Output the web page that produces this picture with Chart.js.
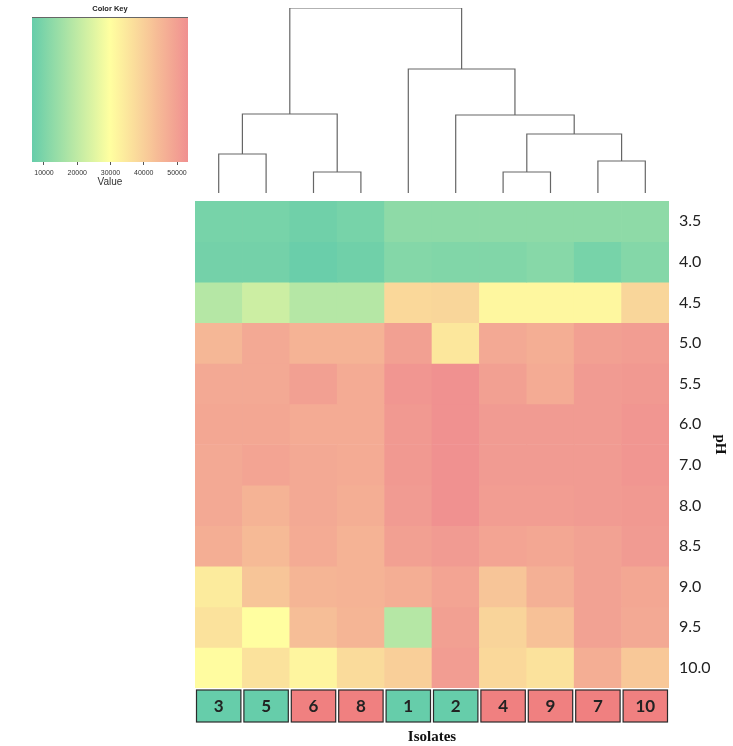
<!DOCTYPE html>
<html>
<head>
<meta charset="utf-8">
<script src="https://cdn.jsdelivr.net/npm/chart.js@4/dist/chart.umd.min.js"></script>
<style>
  body { margin: 0; background: #fff; }
  #wrap { position: relative; width: 733px; height: 746px; }
  canvas { position: absolute; }
</style>
</head>
<body>
<div id="wrap">
  <canvas id="heat" width="733" height="746" style="left:0;top:0"></canvas>
  <canvas id="dendro" width="474" height="200" style="left:195px;top:0"></canvas>
  <canvas id="key" width="200" height="190" style="left:0;top:0"></canvas>
</div>
<script>
// Isolados na ordem do dendrograma
const isolates = ['3', '5', '6', '8', '1', '2', '4', '9', '7', '10'];
const isolateGroup = ['g', 'g', 'r', 'r', 'g', 'g', 'r', 'r', 'r', 'r'];
const phLevels = ['3.5', '4.0', '4.5', '5.0', '5.5', '6.0', '7.0', '8.0', '8.5', '9.0', '9.5', '10.0'];

// Valores por linha de pH (uma posição por isolado)
const ph3_5  = [9000, 9000, 8000, 9000, 12500, 12500, 12500, 12500, 12500, 12500];
const ph4_0  = [8500, 8500, 7000, 8000, 11000, 10500, 10500, 11500, 9000, 11000];
const ph4_5  = [18500, 22000, 18500, 18500, 38000, 38500, 31500, 31500, 31500, 38500];
const ph5_0  = [45000, 48000, 46000, 46000, 50000, 35000, 48000, 47000, 50000, 50500];
const ph5_5  = [48000, 48000, 50000, 47500, 52000, 53000, 50000, 47500, 51000, 51500];
const ph6_0  = [48500, 48500, 47500, 47500, 51500, 53000, 51000, 51000, 51000, 52000];
const ph7_0  = [48000, 49000, 48000, 47500, 51500, 53000, 51000, 51000, 51000, 52000];
const ph8_0  = [48000, 46000, 48000, 47000, 51000, 53000, 50500, 50500, 51000, 51500];
const ph8_5  = [47000, 44500, 47500, 46000, 50000, 51000, 49000, 48500, 49500, 51000];
const ph9_0  = [34000, 42000, 45500, 46000, 47000, 49000, 42000, 46500, 49500, 48500];
const ph9_5  = [36000, 30000, 43500, 45500, 18500, 50000, 39000, 43000, 49500, 48000];
const ph10_0 = [30500, 36000, 32000, 37500, 40000, 50500, 38000, 36000, 47000, 41500];
const heatValues = [ph3_5, ph4_0, ph4_5, ph5_0, ph5_5, ph6_0, ph7_0, ph8_0, ph8_5, ph9_0, ph9_5, ph10_0];

// Escala de cores (Color Key)
const keyMin = 6400;
const keyMax = 53300;
const keyTicks = [10000, 20000, 30000, 40000, 50000];

// Dendrograma: [esquerda, direita, altura]; texto = isolado, número = fusão anterior
const dendroMerges = [
  ['3', '5', 3.9],
  ['6', '8', 2.1],
  ['4', '9', 2.1],
  ['7', '10', 3.2],
  [0, 1, 7.9],
  [2, 3, 5.9],
  ['2', 5, 7.8],
  ['1', 6, 12.4],
  [4, 7, 18.5]
];

const cGreen = [102, 205, 170];
const cYellow = [255, 255, 160];
const cRed = [240, 144, 144];

function mix(a, b, t) {
  return a.map((v, i) => Math.round(v + (b[i] - v) * t));
}

// Converte valor em cor (verde -> amarelo -> vermelho)
function corValor(v) {
  let t = (v - keyMin) / (keyMax - keyMin);
  t = Math.max(0, Math.min(1, t));
  const c = t < 0.5 ? mix(cGreen, cYellow, t * 2) : mix(cYellow, cRed, (t - 0.5) * 2);
  return `rgb(${c[0]}, ${c[1]}, ${c[2]})`;
}

// Caixas coloridas dos isolados (desenhadas antes dos rótulos)
const caixasPlugin = {
  id: 'caixas',
  beforeDraw(chart) {
    const ctx = chart.ctx;
    const x = chart.scales.x;
    const area = chart.chartArea;
    const w = (area.right - area.left) / isolates.length;
    ctx.save();
    isolates.forEach((nome, i) => {
      const cx = x.getPixelForValue(i);
      ctx.fillStyle = isolateGroup[i] === 'g' ? 'rgb(102, 205, 170)' : 'rgb(240, 128, 128)';
      ctx.fillRect(cx - w / 2 + 1.5, area.bottom + 2, w - 3, 32);
      ctx.strokeStyle = '#2b2b2b';
      ctx.lineWidth = 1.2;
      ctx.strokeRect(cx - w / 2 + 1.5, area.bottom + 2, w - 3, 32);
    });
    ctx.restore();
  }
};

new Chart(document.getElementById('heat'), {
  type: 'bar',
  data: {
    labels: isolates,
    datasets: heatValues.map((linha, r) => ({
      label: phLevels[r],
      data: isolates.map(() => 1),
      backgroundColor: linha.map(corValor),
      borderWidth: 0,
      barPercentage: 1,
      categoryPercentage: 1,
      yAxisID: 'y'
    }))
  },
  options: {
    responsive: false,
    devicePixelRatio: 1,
    animation: false,
    layout: { padding: { left: 195, top: 201, right: 0, bottom: 0 } },
    plugins: { legend: { display: false }, tooltip: { enabled: false } },
    scales: {
      x: {
        stacked: true,
        grid: { display: false, drawTicks: false },
        border: { display: false },
        ticks: { color: '#222', padding: 8, font: { family: 'Lato', size: 17, weight: 'bold' } },
        title: {
          display: true, text: 'Isolates', color: '#111',
          font: { family: 'Liberation Serif', size: 15, weight: 'bold' },
          padding: { top: 4, bottom: 0 }
        },
        afterFit: s => { s.height = 58; }
      },
      y: {
        stacked: true, min: 0, max: 12, reverse: true, display: false
      },
      y2: {
        type: 'category',
        labels: phLevels,
        position: 'right',
        offset: true,
        grid: { display: false, drawTicks: false },
        border: { display: false },
        ticks: { color: '#222', padding: 10, font: { family: 'Lato', size: 16 } },
        title: {
          display: true, text: 'pH', color: '#111',
          font: { family: 'Liberation Serif', size: 15, weight: 'bold' },
          padding: { top: 4, bottom: 4 }
        },
        afterFit: s => { s.width = 64; }
      }
    }
  },
  plugins: [caixasPlugin]
});

// Monta os segmentos do dendrograma
const posLeaf = {};
isolates.forEach((n, i) => { posLeaf[n] = { x: i + 0.5, h: 0 }; });
const nos = [];
const segmentos = [];
dendroMerges.forEach(([a, b, h]) => {
  const na = typeof a === 'string' ? posLeaf[a] : nos[a];
  const nb = typeof b === 'string' ? posLeaf[b] : nos[b];
  segmentos.push([{ x: na.x, y: na.h }, { x: na.x, y: h }, { x: nb.x, y: h }, { x: nb.x, y: nb.h }]);
  nos.push({ x: (na.x + nb.x) / 2, h: h });
});

new Chart(document.getElementById('dendro'), {
  type: 'scatter',
  data: {
    datasets: segmentos.map(seg => ({
      data: seg,
      showLine: true,
      borderColor: '#666',
      borderWidth: 1.2,
      pointRadius: 0,
      tension: 0
    }))
  },
  options: {
    responsive: false,
    devicePixelRatio: 1,
    animation: false,
    layout: { padding: { left: 0, right: 0, top: 8, bottom: 7 } },
    plugins: { legend: { display: false }, tooltip: { enabled: false } },
    scales: {
      x: { type: 'linear', min: 0, max: isolates.length, display: false },
      y: { type: 'linear', min: 0, max: 18.5, display: false }
    }
  }
});

// Gradiente da legenda de cores
const gradientePlugin = {
  id: 'gradiente',
  beforeDatasetsDraw(chart) {
    const ctx = chart.ctx;
    const a = chart.chartArea;
    const x = chart.scales.x;
    const g = ctx.createLinearGradient(x.getPixelForValue(keyMin), 0, x.getPixelForValue(keyMax), 0);
    for (let i = 0; i <= 20; i++) {
      const v = keyMin + (keyMax - keyMin) * i / 20;
      g.addColorStop(i / 20, corValor(v));
    }
    ctx.save();
    ctx.fillStyle = g;
    ctx.fillRect(a.left, a.top, a.right - a.left, a.bottom - a.top);
    ctx.strokeStyle = '#666';
    ctx.lineWidth = 1;
    ctx.beginPath();
    ctx.moveTo(a.left, a.top + 0.5);
    ctx.lineTo(a.right, a.top + 0.5);
    ctx.stroke();
    ctx.restore();
  }
};

new Chart(document.getElementById('key'), {
  type: 'scatter',
  data: { datasets: [{ data: [] }] },
  options: {
    responsive: false,
    devicePixelRatio: 1,
    animation: false,
    layout: { padding: { left: 32, right: 12, top: 0, bottom: 0 } },
    plugins: {
      legend: { display: false },
      tooltip: { enabled: false },
      title: {
        display: true, text: 'Color Key', color: '#222',
        font: { family: 'Liberation Sans', size: 7.5, weight: 'bold' },
        padding: { top: 4, bottom: 4 }
      }
    },
    scales: {
      x: {
        type: 'linear', min: keyMin, max: keyMax,
        afterBuildTicks: s => { s.ticks = keyTicks.map(v => ({ value: v })); },
        grid: { drawOnChartArea: false, tickLength: 3, color: '#555' },
        border: { display: false },
        ticks: {
          color: '#333', padding: 4, maxRotation: 0,
          font: { family: 'Liberation Sans', size: 7 },
          callback: v => String(v)
        },
        title: {
          display: true, text: 'Value', color: '#333',
          font: { family: 'Liberation Sans', size: 10 },
          padding: { top: 0, bottom: 2 }
        },
        afterFit: s => { s.height = 28; }
      },
      y: { min: 0, max: 1, display: false }
    }
  },
  plugins: [gradientePlugin]
});
</script>
</body>
</html>
